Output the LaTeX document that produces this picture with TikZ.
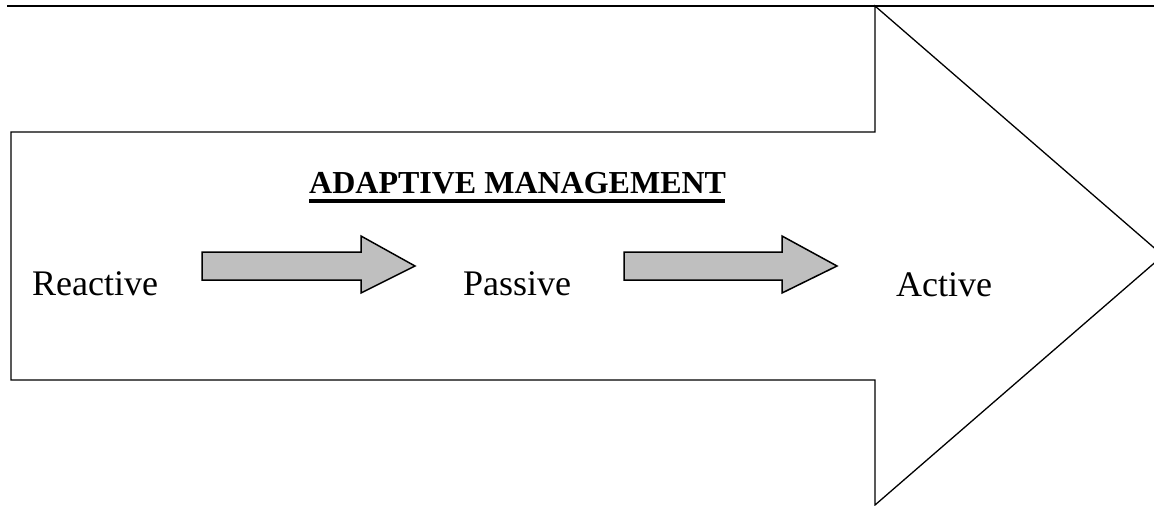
\documentclass[tikz,border=0pt]{standalone}
\usepackage{fontspec}
\setmainfont{Liberation Serif}
\begin{document}
\begin{tikzpicture}[x=1pt,y=-1pt,
  lbl/.style={inner sep=0pt,anchor=base west,font=\fontsize{36}{40}\selectfont},
  ttl/.style={inner sep=0pt,anchor=base west,font=\fontsize{32}{36}\selectfont\bfseries},
  bigarrow/.style={draw=black,line width=1.3pt,fill=white,line join=miter},
  smallarrow/.style={draw=black,line width=1.5pt,fill=black!25,line join=miter}]
\useasboundingbox (0,0) rectangle (1154,506);
\clip (0,0) rectangle (1154,506);
% header rule
\draw[line width=2.2pt] (7,6) -- (1154,6);
% big arrow
\draw[bigarrow] (11,132) -- (875,132) -- (875,6) -- (1163,255.5) -- (875,505) -- (875,380) -- (11,380) -- cycle;
% small arrows
\draw[smallarrow] (202,252) -- (361,252) -- (361,236) -- (415,266) -- (361,293) -- (361,280) -- (202,280) -- cycle;
\draw[smallarrow] (624,252) -- (782,252) -- (782,236) -- (837,266) -- (782,293) -- (782,280) -- (624,280) -- cycle;
% texts
\node[ttl] (title) at (309,193) {ADAPTIVE MANAGEMENT};
\draw[line width=3.5pt] (title.base west) ++(0,8) -- ++(416,0);
\node[lbl] (reactive) at (32,295) {Reactive};
\node[lbl] (passive) at (463,295) {Passive};
\node[lbl] (active) at (896,296) {Active};
\end{tikzpicture}
\end{document}
